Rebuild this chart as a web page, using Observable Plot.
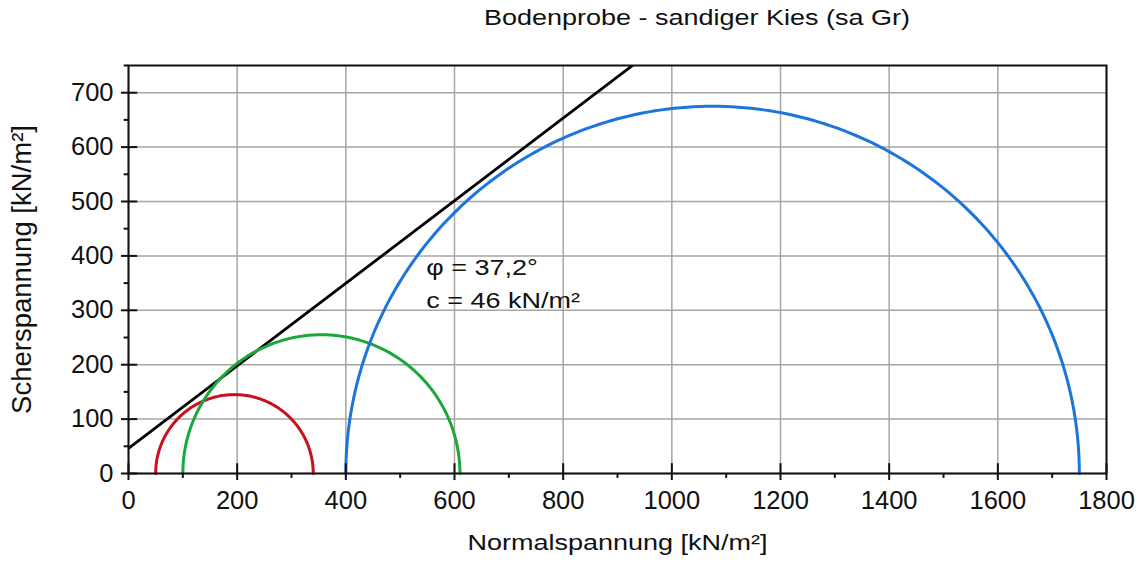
<!DOCTYPE html>
<html><head><meta charset="utf-8">
<script src="https://cdn.jsdelivr.net/npm/d3@7"></script>
<script src="https://cdn.jsdelivr.net/npm/@observablehq/plot@0.6"></script>
<style>
body{margin:0;background:#fff;font-family:"Liberation Sans",Arial,sans-serif;}
#wrap{position:relative;width:1143px;height:563px;overflow:hidden;}
#title{position:absolute;left:697px;top:3px;transform:translateX(-50%) scaleY(0.82);white-space:nowrap;font-size:27px;line-height:30px;color:#111;}
#chart{position:absolute;left:0;top:50px;}
</style></head>
<body>
<div id="wrap"><div id="title">Bodenprobe - sandiger Kies (sa Gr)</div><div id="chart"></div></div>
<script>
// Data
const sigma3 = [50, 100, 400];          // kN/m², minor principal stress
const sigma1 = [340, 610, 1750];        // kN/m², major principal stress
const circleColors = ["#c8101e", "#19a83a", "#1c74dc"];
const phiDeg = 37.2;                    // friction angle
const cohesion = 46;                    // kN/m²
const xMajor = [0, 200, 400, 600, 800, 1000, 1200, 1400, 1600, 1800];
const xMinor = [100, 300, 500, 700, 900, 1100, 1300, 1500, 1700];
const yMajor = [0, 100, 200, 300, 400, 500, 600, 700];
const yMinor = [50, 150, 250, 350, 450, 550, 650, 750];
const annotation = ["φ = 37,2°", "c = 46 kN/m²"];
const annotY = [364, 305];
const annotX = 548;
const xLabel = "Normalspannung [kN/m²]";
const yLabel = "Scherspannung [kN/m²]";

// Mohr circles (upper halves) from principal stresses
const circlePts = [];
sigma3.forEach((s3, i) => {
  const c = (sigma1[i] + s3) / 2, r = (sigma1[i] - s3) / 2;
  for (let k = 0; k <= 180; k++) {
    const a = Math.PI * k / 180;
    circlePts.push({id: i, x: c - r * Math.cos(a), y: r * Math.sin(a), color: circleColors[i]});
  }
});
const tanPhi = Math.tan(phiDeg * Math.PI / 180);
const envelope = [0, 1200].map(x => ({x, y: cohesion + x * tanPhi}));

const font = "Liberation Sans, Arial, sans-serif";
const chart = Plot.plot({
  width: 1143, height: 513,
  marginTop: 15, marginBottom: 90, marginLeft: 128, marginRight: 37,
  x: {domain: [0, 1800]},
  y: {domain: [0, 750]},
  color: {type: "identity"},
  style: {fontFamily: font, fontSize: "25.5px", color: "#111", background: "white", overflow: "visible"},
  marks: [
    Plot.gridX(xMajor, {stroke: "#a6a6a6", strokeOpacity: 1, strokeWidth: 1.5}),
    Plot.gridY(yMajor, {stroke: "#a6a6a6", strokeOpacity: 1, strokeWidth: 1.5}),
    Plot.line(envelope, {x: "x", y: "y", stroke: "#000", strokeWidth: 2.8, clip: true}),
    Plot.line(circlePts, {x: "x", y: "y", z: "id", stroke: "color", strokeWidth: 3}),
    Plot.frame({stroke: "#111", strokeWidth: 2}),
    Plot.ruleX(xMajor, {x: d => d, y1: -13, y2: 18, stroke: "#111", strokeWidth: 2}),
    Plot.ruleX(xMinor, {x: d => d, y1: -9, y2: 0, stroke: "#111", strokeWidth: 2}),
    Plot.ruleY(yMajor, {y: d => d, x1: -13, x2: 17, stroke: "#111", strokeWidth: 2}),
    Plot.ruleY(yMinor, {y: d => d, x1: -8, x2: 0, stroke: "#111", strokeWidth: 2}),
    Plot.axisX(xMajor, {tickSize: 0, tickPadding: 17, label: null, fontSize: 25.5, tickFormat: d => String(d)}),
    Plot.axisY(yMajor, {tickSize: 0, tickPadding: 15, label: null, fontSize: 25.5, tickFormat: d => String(d)}),
    Plot.text(annotation, {x: annotX, y: (d, i) => annotY[i], text: d => d, textAnchor: "start", fontSize: 27, fill: "#111"}),
    Plot.text([xLabel], {frameAnchor: "bottom", dy: 76, text: d => d, fontSize: 27, fill: "#111"}),
    Plot.text([yLabel], {frameAnchor: "left", dx: -106, rotate: -90, textAnchor: "middle", text: d => d, fontSize: 27.5, fill: "#111"})
  ]
});
document.getElementById("chart").appendChild(chart);

// squash horizontal annotation/label texts vertically, like the reference
chart.querySelectorAll('g[aria-label="text"] text').forEach(t => {
  const tr = t.getAttribute("transform") || "";
  if (tr.includes("rotate")) return;
  const x = +t.getAttribute("x") || 0, y = +t.getAttribute("y") || 0;
  t.removeAttribute("x"); t.removeAttribute("y");
  t.setAttribute("transform", `${tr} translate(${x},${y}) scale(1,0.84)`);
});
</script>
</body></html>
